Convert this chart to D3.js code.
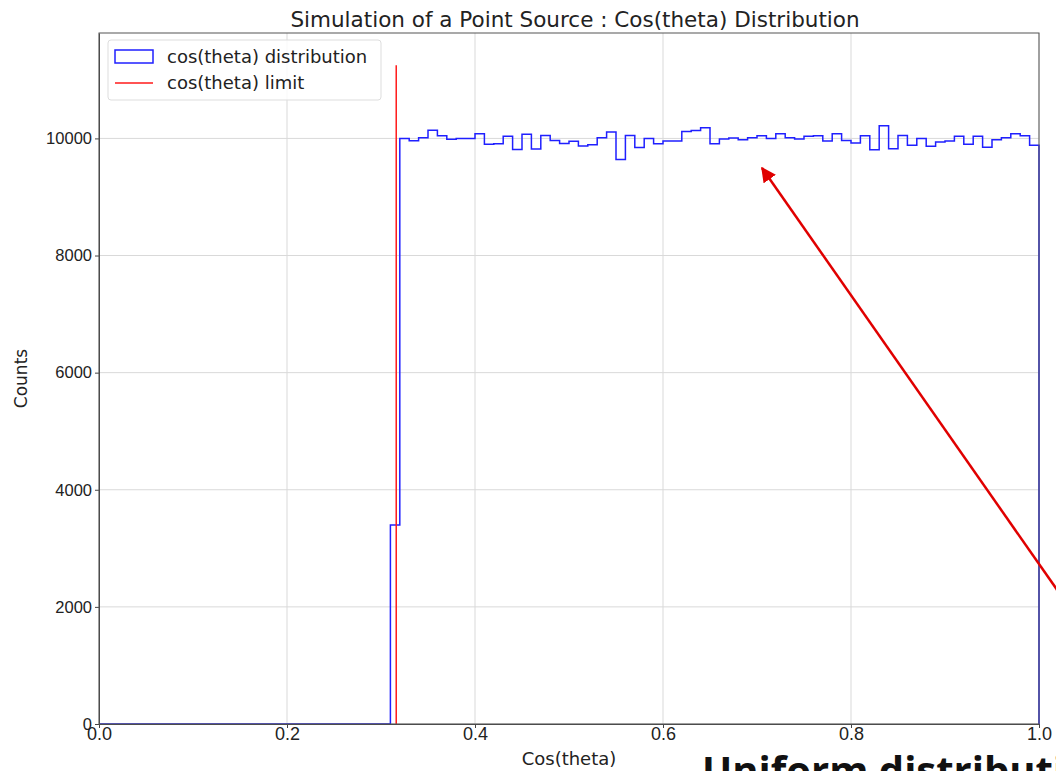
<!DOCTYPE html>
<html lang="en">
<head>
<meta charset="UTF-8">
<title>Cos(theta) Distribution</title>
<script src="https://d3js.org/d3.v7.min.js"></script>
<style>
    body { margin: 0; background: #fff; overflow: hidden; }
    svg { display: block; font-family: "DejaVu Sans", sans-serif; }
    .grid line { stroke: #d9d9d9; stroke-width: 1; }
    .axis text { font-size: 16.5px; fill: #222; }
    .axis.x text { font-size: 18px; }
    .axis path, .axis line { stroke: #444; }
</style>
</head>
<body>
<svg id="chart" width="1056" height="771"></svg>
<script>
    // histogram bins: left edges from 0.00 to 0.99 (width 0.01)
    const binWidth = 0.01;
    const binStarts = d3.range(100).map(i => +(i * binWidth).toFixed(2));

    // counts, bins 0.00 .. 0.30 are empty
    const emptyBins = d3.range(31).map(() => 0);
    const countsFrom031 = [
        3400,                                                   // 0.31
        10000, 9960, 10010, 10140, 10045, 9985, 10000, 10000,   // 0.32 - 0.39
        10080, 9900, 9910, 10035, 9810, 10070, 9820, 10050, 9965, 9915, // 0.40 - 0.49
        9950, 9870, 9890, 10010, 10110, 9640, 10050, 9845, 10000, 9910, // 0.50 - 0.59
        9955, 9955, 10120, 10135, 10180, 9910, 9990, 10005, 9977, 10010, // 0.60 - 0.69
        10045, 10000, 10080, 10010, 9990, 10035, 10045, 9955, 10080, 9965, // 0.70 - 0.79
        9920, 10045, 9805, 10215, 9825, 10050, 9885, 10000, 9865, 9940, // 0.80 - 0.89
        9955, 10035, 9900, 10035, 9850, 9975, 10010, 10080, 10045, 9885 // 0.90 - 0.99
    ];
    const counts = emptyBins.concat(countsFrom031);

    const limitX = 0.3162;      // cos(theta) limit
    const limitHeight = 11250;

    const xTicks = [0, 0.2, 0.4, 0.6, 0.8, 1.0];
    const yTicks = [0, 2000, 4000, 6000, 8000, 10000];

    const margin = { left: 99, right: 17, top: 33, bottom: 47 };
    const width = 1056, height = 771;
    const svg = d3.select("#chart");

    const x = d3.scaleLinear().domain([0, 1]).range([margin.left, width - margin.right]);
    const y = d3.scaleLinear().domain([0, 11800]).range([height - margin.bottom, margin.top]);

    // grid
    const grid = svg.append("g").attr("class", "grid");
    grid.selectAll(".gx").data(xTicks).enter().append("line")
        .attr("x1", d => x(d)).attr("x2", d => x(d))
        .attr("y1", y.range()[0]).attr("y2", y.range()[1]);
    grid.selectAll(".gy").data(yTicks).enter().append("line")
        .attr("x1", x.range()[0]).attr("x2", x.range()[1])
        .attr("y1", d => y(d)).attr("y2", d => y(d));

    // step histogram outline
    const pts = [[0, 0]];
    binStarts.forEach((b, i) => {
        pts.push([b, counts[i]]);
        pts.push([b + binWidth, counts[i]]);
    });
    pts.push([1, 0]);
    const line = d3.line().x(d => x(d[0])).y(d => y(d[1]));
    svg.append("path")
        .attr("d", line(pts))
        .attr("fill", "none")
        .attr("stroke", "#1f1fff")
        .attr("stroke-width", 1.5);

    // limit line
    svg.append("line")
        .attr("x1", x(limitX)).attr("x2", x(limitX))
        .attr("y1", y(0)).attr("y2", y(limitHeight))
        .attr("stroke", "#ff1a1a").attr("stroke-width", 1.5);

    // axes
    const xAxis = svg.append("g").attr("class", "axis x")
        .attr("transform", `translate(0,${y(0)})`)
        .call(d3.axisBottom(x).tickValues(xTicks).tickFormat(d3.format(".1f")).tickSize(4).tickSizeOuter(0));
    xAxis.selectAll("text").attr("dy", "0.5em");
    svg.append("g").attr("class", "axis y")
        .attr("transform", `translate(${x(0)},0)`)
        .call(d3.axisLeft(y).tickValues(yTicks).tickFormat(d3.format("d")).tickSize(4).tickSizeOuter(0));

    // frame
    svg.append("rect")
        .attr("x", x.range()[0]).attr("y", y.range()[1])
        .attr("width", x.range()[1] - x.range()[0])
        .attr("height", y.range()[0] - y.range()[1])
        .attr("fill", "none").attr("stroke", "#555").attr("stroke-width", 1);

    // titles
    svg.append("text").attr("x", (x.range()[0] + x.range()[1]) / 2 + 6).attr("y", 27)
        .attr("text-anchor", "middle").attr("font-size", 21.5).attr("fill", "#222")
        .text("Simulation of a Point Source : Cos(theta) Distribution");
    svg.append("text").attr("x", (x.range()[0] + x.range()[1]) / 2).attr("y", 765)
        .attr("text-anchor", "middle").attr("font-size", 18).attr("fill", "#222")
        .text("Cos(theta)");
    svg.append("text").attr("transform", `translate(27,${(y.range()[0] + y.range()[1]) / 2}) rotate(-90)`)
        .attr("text-anchor", "middle").attr("font-size", 17).attr("fill", "#222")
        .text("Counts");

    // legend
    const lg = svg.append("g").attr("transform", "translate(108,40)");
    lg.append("rect").attr("width", 273).attr("height", 60).attr("rx", 3)
        .attr("fill", "#fff").attr("fill-opacity", 0.85).attr("stroke", "#ddd");
    lg.append("rect").attr("x", 7).attr("y", 10).attr("width", 38).attr("height", 13)
        .attr("fill", "none").attr("stroke", "#1f1fff").attr("stroke-width", 1.5);
    lg.append("line").attr("x1", 7).attr("x2", 45).attr("y1", 43).attr("y2", 43)
        .attr("stroke", "#ff1a1a").attr("stroke-width", 1.5);
    lg.append("text").attr("x", 59).attr("y", 23).attr("font-size", 18).attr("fill", "#222")
        .text("cos(theta) distribution");
    lg.append("text").attr("x", 59).attr("y", 49).attr("font-size", 18).attr("fill", "#222")
        .text("cos(theta) limit");

    // annotation arrow and caption
    const defs = svg.append("defs");
    defs.append("marker").attr("id", "arrow").attr("viewBox", "0 0 10 10")
        .attr("refX", 9).attr("refY", 5).attr("markerWidth", 6).attr("markerHeight", 6)
        .attr("orient", "auto")
        .append("path").attr("d", "M0,0 L10,5 L0,10 z").attr("fill", "#e00000");
    svg.append("line")
        .attr("x1", 1060).attr("y1", 594).attr("x2", 762).attr("y2", 168)
        .attr("stroke", "#e00000").attr("stroke-width", 2.5)
        .attr("marker-end", "url(#arrow)");
    svg.append("text").attr("x", 702).attr("y", 785)
        .attr("font-family", "'Open Sans', sans-serif").attr("font-weight", "bold")
        .attr("font-size", 40).attr("fill", "#111")
        .text("Uniform distribution");
</script>
</body>
</html>
